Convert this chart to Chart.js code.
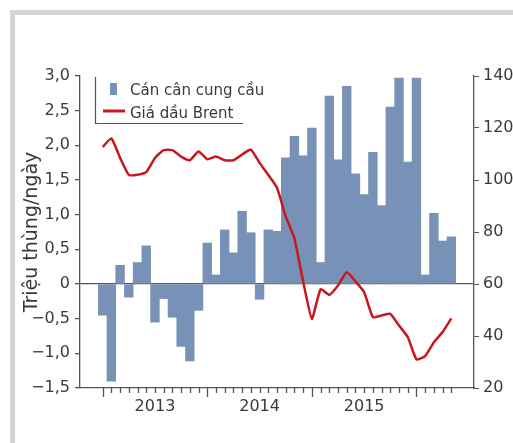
<!DOCTYPE html>
<html>
<head>
<meta charset="utf-8">
<script src="https://cdn.jsdelivr.net/npm/chart.js@4"></script>
<style>
  html, body { margin: 0; padding: 0; background: #ffffff; }
  #wrap { width: 513px; height: 443px; }
</style>
</head>
<body>
<div id="wrap"><canvas id="chart" width="513" height="443"></canvas></div>
<script>
// Tháng (T1/2013 ... T5/2016)
const months = [
  'T1/2013','T2/2013','T3/2013','T4/2013','T5/2013','T6/2013','T7/2013','T8/2013','T9/2013','T10/2013','T11/2013','T12/2013',
  'T1/2014','T2/2014','T3/2014','T4/2014','T5/2014','T6/2014','T7/2014','T8/2014','T9/2014','T10/2014','T11/2014','T12/2014',
  'T1/2015','T2/2015','T3/2015','T4/2015','T5/2015','T6/2015','T7/2015','T8/2015','T9/2015','T10/2015','T11/2015','T12/2015',
  'T1/2016','T2/2016','T3/2016','T4/2016','T5/2016'
];

// Cán cân cung cầu (triệu thùng/ngày)
const canCan = [
  -0.45, -1.40, 0.27, -0.19, 0.31, 0.55, -0.55, -0.21, -0.48, -0.90, -1.11, -0.38,
  0.59, 0.13, 0.78, 0.45, 1.05, 0.74, -0.22, 0.78, 0.76, 1.82, 2.13, 1.85,
  2.25, 0.31, 2.71, 1.79, 2.85, 1.59, 1.29, 1.90, 1.13, 2.55, 2.97, 1.76,
  2.97, 0.13, 1.02, 0.62, 0.68
];

// Giá dầu Brent (USD/thùng)
const giaBrent = [
  112.7, 116, 108.5, 102, 102, 103, 108.5, 111.5, 111.5, 109, 107.6, 111,
  108, 109, 107.6, 107.6, 109.8, 111.7, 106.6, 102, 97, 86, 77.5, 61,
  46.6, 58, 55.8, 59.4, 64.5, 61, 56.8, 47.2, 47.9, 48.5, 44, 39.6,
  31, 32.3, 37.6, 41.5, 46.8
];

const leftTicks = [-1.5, -1.0, -0.5, 0, 0.5, 1.0, 1.5, 2.0, 2.5, 3.0];
const rightTicks = [20, 40, 60, 80, 100, 120, 140];

const mauCot = '#7891b7';
const mauDuong = '#c8171e';
const mauTruc = '#555555';
const mauChu = '#3a3a3a';
const FONT = "'DejaVu Sans', sans-serif";

// khung xám phía trên và bên trái
const khung = {
  id: 'khung',
  beforeDraw(chart) {
    const ctx = chart.ctx;
    ctx.save();
    ctx.fillStyle = '#d5d5d5';
    ctx.fillRect(10, 10, chart.width - 10, 5);
    ctx.fillRect(10, 10, 5, chart.height - 10);
    ctx.restore();
  }
};

// vạch chia trục hoành: mỗi tháng một vạch, tháng 1 dài hơn
const vachThang = {
  id: 'vachThang',
  afterDraw(chart) {
    const sx = chart.scales.x;
    const ctx = chart.ctx;
    const y0 = chart.chartArea.bottom;
    ctx.save();
    ctx.strokeStyle = mauTruc;
    ctx.lineWidth = 1.3;
    ctx.beginPath();
    months.forEach((m, i) => {
      const x = Math.round(sx.getPixelForValue(i)) + 0.5;
      const len = m.startsWith('T1/') ? 9 : 5;
      ctx.moveTo(x, y0);
      ctx.lineTo(x, y0 + len);
    });
    ctx.stroke();
    ctx.restore();
  }
};

// chú giải trong vùng biểu đồ, có viền trái và dưới
const chuGiai = {
  id: 'chuGiai',
  afterDraw(chart) {
    const ctx = chart.ctx;
    const a = chart.chartArea;
    const ds = chart.data.datasets;
    const x0 = a.left + 15;
    ctx.save();
    ctx.strokeStyle = mauTruc;
    ctx.lineWidth = 1.2;
    ctx.beginPath();
    ctx.moveTo(x0 + 0.5, a.top + 1);
    ctx.lineTo(x0 + 0.5, a.top + 47.5);
    ctx.lineTo(x0 + 148, a.top + 47.5);
    ctx.stroke();

    ctx.fillStyle = mauCot;
    ctx.fillRect(x0 + 15, a.top + 7, 7, 12);

    ctx.strokeStyle = mauDuong;
    ctx.lineWidth = 3;
    ctx.beginPath();
    ctx.moveTo(x0 + 8, a.top + 35);
    ctx.lineTo(x0 + 30, a.top + 35);
    ctx.stroke();

    ctx.fillStyle = mauChu;
    ctx.font = '15px ' + FONT;
    ctx.textBaseline = 'alphabetic';
    ctx.fillText(ds[0].label, x0 + 35, a.top + 18.5);
    ctx.fillText(ds[1].label, x0 + 35, a.top + 42);
    ctx.restore();
  }
};

const soVN = v => {
  if (v === 0) return '0';
  return (v < 0 ? '\u2212' : '') + Math.abs(v).toFixed(1).replace('.', ',');
};

new Chart(document.getElementById('chart'), {
  type: 'bar',
  data: {
    datasets: [
      {
        type: 'bar',
        label: 'Cán cân cung cầu',
        data: canCan.map((v, i) => ({ x: i, y: v })),
        backgroundColor: mauCot,
        borderWidth: 0,
        barPercentage: 1,
        categoryPercentage: 1,
        yAxisID: 'y',
        order: 2
      },
      {
        type: 'line',
        label: 'Giá dầu Brent',
        data: giaBrent.map((v, i) => ({ x: i, y: v })),
        borderColor: mauDuong,
        borderWidth: 2.5,
        pointRadius: 0,
        tension: 0.15,
        borderJoinStyle: 'round',
        fill: false,
        yAxisID: 'y2',
        order: 1
      }
    ]
  },
  options: {
    responsive: false,
    animation: false,
    layout: { padding: { left: 20, right: 0, top: 76, bottom: 0 } },
    plugins: {
      legend: { display: false },
      tooltip: { enabled: false }
    },
    scales: {
      x: {
        type: 'linear',
        offset: false,
        min: -2.6,
        max: 42.6,
        afterFit: s => { s.height = 55; },
        border: { display: true, color: mauTruc, width: 1.3 },
        grid: { display: false, drawTicks: false },
        ticks: {
          stepSize: 1,
          autoSkip: false,
          maxRotation: 0,
          minRotation: 0,
          padding: 9,
          color: mauChu,
          font: { family: FONT, size: 16 },
          callback: v => {
            const m = months[v];
            return (Number.isInteger(v) && m && m.startsWith('T7/')) ? m.slice(3) : '';
          }
        }
      },
      y: {
        position: 'left',
        min: -1.5,
        max: 3,
        afterFit: s => { s.width = 60; },
        afterBuildTicks: s => { s.ticks = leftTicks.map(v => ({ value: v })); },
        border: { display: true, color: mauTruc, width: 1.3 },
        grid: {
          drawOnChartArea: true,
          color: c => (c.tick && c.tick.value === 0) ? mauTruc : 'rgba(0,0,0,0)',
          lineWidth: 1.3,
          tickColor: mauTruc,
          tickLength: 5
        },
        ticks: {
          padding: 5,
          color: mauChu,
          font: { family: FONT, size: 16 },
          callback: v => soVN(v)
        },
        title: {
          display: true,
          text: 'Triệu thùng/ngày',
          color: mauChu,
          padding: { top: 1, bottom: 0 },
          font: { family: FONT, size: 19 }
        }
      },
      y2: {
        position: 'right',
        min: 20,
        max: 140,
        afterFit: s => { s.width = 39; },
        afterBuildTicks: s => { s.ticks = rightTicks.map(v => ({ value: v })); },
        border: { display: true, color: mauTruc, width: 1.3 },
        grid: {
          drawOnChartArea: false,
          tickColor: mauTruc,
          tickLength: 5
        },
        ticks: {
          padding: 4,
          color: mauChu,
          font: { family: FONT, size: 16 }
        }
      }
    }
  },
  plugins: [khung, vachThang, chuGiai]
});
</script>
</body>
</html>
